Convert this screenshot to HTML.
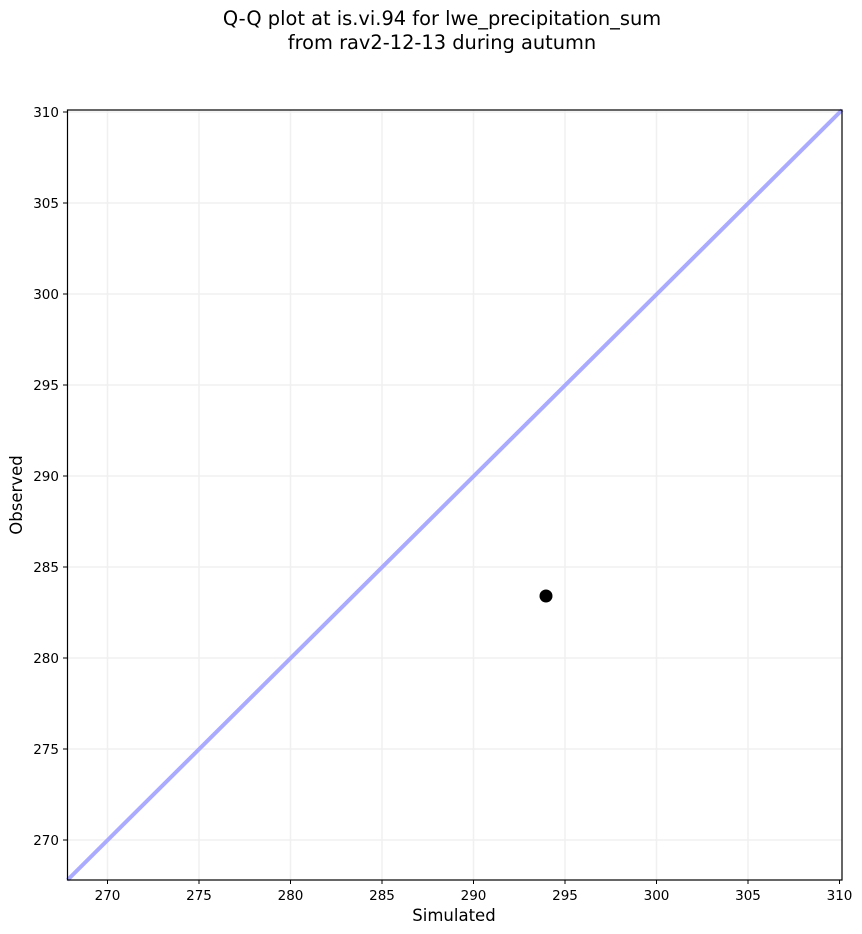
<!DOCTYPE html>
<html><head><meta charset="utf-8"><style>body{margin:0;background:#fff}svg{display:block}</style></head><body>
<svg width="862" height="934" xmlns="http://www.w3.org/2000/svg" font-family="DejaVu Sans, Liberation Sans, sans-serif">
<rect width="862" height="934" fill="#fff"/>
<text x="442" y="25" font-size="19.4" text-anchor="middle">Q-Q plot at is.vi.94 for lwe_precipitation_sum</text>
<text x="442" y="49" font-size="19.4" text-anchor="middle">from rav2-12-13 during autumn</text>
<g stroke="#f0f0f0" stroke-width="1.5">
<line x1="107.5" y1="110" x2="107.5" y2="880"/><line x1="199" y1="110" x2="199" y2="880"/><line x1="290.5" y1="110" x2="290.5" y2="880"/><line x1="382" y1="110" x2="382" y2="880"/><line x1="473.5" y1="110" x2="473.5" y2="880"/><line x1="565" y1="110" x2="565" y2="880"/><line x1="656.5" y1="110" x2="656.5" y2="880"/><line x1="748" y1="110" x2="748" y2="880"/>
<line x1="67.5" y1="840" x2="842" y2="840"/><line x1="67.5" y1="749" x2="842" y2="749"/><line x1="67.5" y1="658" x2="842" y2="658"/><line x1="67.5" y1="567" x2="842" y2="567"/><line x1="67.5" y1="476" x2="842" y2="476"/><line x1="67.5" y1="385" x2="842" y2="385"/><line x1="67.5" y1="294" x2="842" y2="294"/><line x1="67.5" y1="203" x2="842" y2="203"/><line x1="67.5" y1="112" x2="842" y2="112"/>
</g>
<line x1="67.5" y1="880" x2="842" y2="110" stroke="#aaaaff" stroke-width="4"/>
<circle cx="546" cy="596" r="6.5" fill="#000"/>
<rect x="67.5" y="110" width="774.5" height="770" fill="none" stroke="#000" stroke-width="1.2"/>
<g stroke="#000" stroke-width="1">
<line x1="107.5" y1="880" x2="107.5" y2="884"/><line x1="199" y1="880" x2="199" y2="884"/><line x1="290.5" y1="880" x2="290.5" y2="884"/><line x1="382" y1="880" x2="382" y2="884"/><line x1="473.5" y1="880" x2="473.5" y2="884"/><line x1="565" y1="880" x2="565" y2="884"/><line x1="656.5" y1="880" x2="656.5" y2="884"/><line x1="748" y1="880" x2="748" y2="884"/><line x1="839.5" y1="880" x2="839.5" y2="884"/>
<line x1="63" y1="840" x2="67.5" y2="840"/><line x1="63" y1="749" x2="67.5" y2="749"/><line x1="63" y1="658" x2="67.5" y2="658"/><line x1="63" y1="567" x2="67.5" y2="567"/><line x1="63" y1="476" x2="67.5" y2="476"/><line x1="63" y1="385" x2="67.5" y2="385"/><line x1="63" y1="294" x2="67.5" y2="294"/><line x1="63" y1="203" x2="67.5" y2="203"/><line x1="63" y1="112" x2="67.5" y2="112"/>
</g>
<g font-size="13.5" text-anchor="middle">
<text x="107.5" y="900">270</text><text x="199" y="900">275</text><text x="290.5" y="900">280</text><text x="382" y="900">285</text><text x="473.5" y="900">290</text><text x="565" y="900">295</text><text x="656.5" y="900">300</text><text x="748" y="900">305</text><text x="839.5" y="900">310</text>
</g>
<g font-size="13.5" text-anchor="end">
<text x="59" y="845">270</text><text x="59" y="754">275</text><text x="59" y="663">280</text><text x="59" y="572">285</text><text x="59" y="481">290</text><text x="59" y="390">295</text><text x="59" y="299">300</text><text x="59" y="208">305</text><text x="59" y="117">310</text>
</g>
<text x="454" y="921" font-size="16.5" text-anchor="middle">Simulated</text>
<text transform="translate(22,495) rotate(-90)" font-size="16.5" text-anchor="middle">Observed</text>
</svg>
</body></html>
